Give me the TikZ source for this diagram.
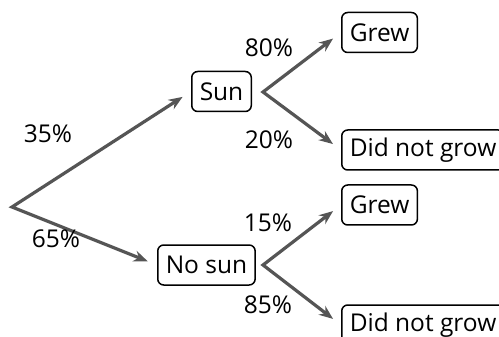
\documentclass[tikz,border=0pt]{standalone}
\usepackage{fontspec}
\setmainfont{Open Sans}
\usetikzlibrary{arrows.meta}
\tikzset{>={Stealth[length=14pt,width=11pt]}}
\definecolor{branchgray}{RGB}{85,85,85}
\tikzset{
    outcome/.style={draw, rounded corners=6pt, line width=1.5pt, minimum height=40pt, inner xsep=8pt, anchor=west, font=\fontsize{24.5}{28}\selectfont},
    branch/.style={<->, branchgray, line width=3.2pt, shorten >=10pt, shorten <=10pt},
    prob/.style={font=\fontsize{24.5}{28}\selectfont},
}

\begin{document}
\begin{tikzpicture}[x=1pt,y=-1pt]
    \useasboundingbox (0,0) rectangle (499,337);
    \clip (0,0) rectangle (499,337);

    \coordinate (R) at (12,207);
    \coordinate (F1) at (263,92);
    \coordinate (F2) at (263,265);

    % First stage
    \node[outcome] (S) at (191,91.5) {Sun};
    \node[outcome] (N) at (157,265) {No sun};

    % Second stage
    \node[outcome] (SG) at (341,32.5) {Grew};
    \node[outcome] (SD) at (341,150) {Did not grow};
    \node[outcome] (NG) at (341,205) {Grew};
    \node[outcome] (ND) at (341,325) {Did not grow};

    % Branches
    \draw[branch] (S.west) -- (R) -- (N.west);
    \draw[branch] (SG.west) -- (F1) -- (SD.west);
    \draw[branch] (NG.west) -- (F2) -- (ND.west);

    % Probabilities
    \node[prob] (p1) at (48,134) {35\%};
    \node[prob] (p2) at (56,239) {65\%};
    \node[prob] (p3) at (269,48) {80\%};
    \node[prob] (p4) at (269,140) {20\%};
    \node[prob] (p5) at (268,223) {15\%};
    \node[prob] (p6) at (268,305) {85\%};

\end{tikzpicture}
\end{document}
